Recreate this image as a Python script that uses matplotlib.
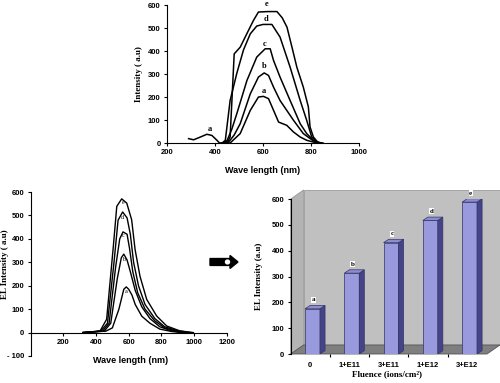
import matplotlib
matplotlib.use("Agg")
import matplotlib.pyplot as plt
from matplotlib.patches import Polygon, FancyArrow, Ellipse

# ---------------- data ----------------
# Top panel: emission spectra (a..e)
top_a_x = [290, 311, 339, 366, 387, 408, 419, 440, 463, 505, 547, 581, 602, 623, 644, 665, 699, 727, 755, 782, 824]
top_a_y = [19, 14, 26, 38, 33, 12, 0, 2, 0, 41, 142, 200, 203, 193, 142, 91, 77, 48, 26, 12, 0]
top_b_x = [445, 460, 480, 505, 547, 581, 605, 623, 644, 671, 699, 727, 768, 810, 845]
top_b_y = [0, 8, 35, 84, 214, 287, 305, 294, 243, 185, 142, 99, 41, 9, 0]
top_c_x = [435, 450, 470, 491, 533, 574, 609, 630, 644, 671, 713, 755, 782, 810, 838]
top_c_y = [0, 10, 60, 128, 272, 374, 410, 410, 359, 287, 185, 84, 41, 12, 0]
top_d_x = [430, 443, 463, 491, 519, 547, 574, 600, 637, 671, 713, 755, 782, 803, 831]
top_d_y = [0, 12, 185, 304, 406, 475, 509, 516, 516, 461, 330, 185, 99, 26, 0]
top_e_x = [430, 455, 463, 480, 505, 530, 560, 581, 620, 658, 680, 700, 720, 741, 768, 789, 796, 810, 831, 850]
top_e_y = [0, 10, 26, 388, 417, 470, 533, 570, 572, 572, 545, 504, 420, 330, 243, 157, 70, 26, 0, 0]

# Bottom-left panel: EL spectra (a..e)
bl_a_x = [320, 400, 460, 500, 540, 570, 585, 600, 620, 640, 680, 730, 790, 860, 920]
bl_a_y = [0, 4, 6, 20, 100, 185, 195, 185, 160, 120, 70, 40, 15, 5, 0]
bl_b_x = [320, 400, 450, 490, 530, 555, 570, 590, 610, 640, 680, 730, 790, 860, 940]
bl_b_y = [0, 4, 6, 40, 230, 320, 335, 310, 260, 180, 110, 60, 25, 8, 0]
bl_c_x = [320, 400, 440, 480, 520, 545, 565, 590, 605, 625, 655, 700, 760, 820, 900, 960]
bl_c_y = [0, 4, 6, 40, 280, 400, 430, 420, 360, 260, 170, 100, 50, 20, 5, 0]
bl_d_x = [320, 400, 430, 470, 510, 535, 563, 590, 610, 630, 660, 700, 760, 820, 900, 980]
bl_d_y = [0, 5, 7, 40, 300, 480, 515, 490, 420, 300, 200, 120, 60, 25, 8, 0]
bl_e_x = [320, 400, 425, 465, 506, 527, 557, 588, 618, 639, 669, 710, 771, 833, 914, 996]
bl_e_y = [0, 5, 7, 57, 369, 539, 571, 553, 482, 355, 241, 142, 71, 28, 7, 0]

# Bottom-right panel: EL intensity vs fluence
fluence_labels = ["0", "1+E11", "3+E11", "1+E12", "3+E12"]
el_values = [175, 313, 431, 517, 588]
bar_letters = ["a", "b", "c", "d", "e"]

# ---------------- figure ----------------
fig = plt.figure(figsize=(5.0, 3.83), dpi=100)
SANS = ["Liberation Sans", "DejaVu Sans"]
SERIF = ["Liberation Serif", "DejaVu Serif"]

def style_ticks(ax):
    for lab in ax.get_xticklabels() + ax.get_yticklabels():
        lab.set_fontfamily(SANS)
        lab.set_fontweight("bold")
        lab.set_fontsize(5.5)

# ---- top panel ----
ax1 = fig.add_axes([0.334, 0.6266, 0.384, 0.360])
for xs, ys in [(top_a_x, top_a_y), (top_b_x, top_b_y), (top_c_x, top_c_y),
               (top_d_x, top_d_y), (top_e_x, top_e_y)]:
    ax1.plot(xs, ys, color="black", lw=1.1)
ax1.set_xlim(200, 1000)
ax1.set_ylim(0, 600)
ax1.set_xticks([200, 400, 600, 800, 1000])
ax1.set_yticks(range(0, 601, 100))
ax1.spines[["top", "right"]].set_visible(False)
ax1.tick_params(length=2.5, width=0.8, pad=2)
style_ticks(ax1)
ax1.set_xlabel("Wave length (nm)", fontfamily=SANS, fontweight="bold", fontsize=6.5)
ax1.xaxis.set_label_coords(0.5, -0.165)
ax1.set_ylabel("Intensity ( a.u)", fontfamily=SERIF, fontweight="bold", fontsize=6.5)
ax1.yaxis.set_label_coords(-0.125, 0.5)
for letter, (lx, ly) in zip(["a", "b", "c", "d", "e", "a"],
                            [(605, 226), (605, 333), (605, 432), (612, 540), (616, 604), (380, 62)]):
    ax1.text(lx, ly, letter, ha="center", va="center", fontfamily=SERIF,
             fontweight="bold", fontsize=6, clip_on=False)

# ---- bottom-left panel ----
ax2 = fig.add_axes([0.0614, 0.0705, 0.392, 0.428])
for xs, ys in [(bl_a_x, bl_a_y), (bl_b_x, bl_b_y), (bl_c_x, bl_c_y),
               (bl_d_x, bl_d_y), (bl_e_x, bl_e_y)]:
    ax2.plot(xs, ys, color="black", lw=1.0)
ax2.set_xlim(0, 1200)
ax2.set_ylim(-100, 600)
ax2.set_xticks([200, 400, 600, 800, 1000, 1200])
ax2.set_yticks(range(-100, 601, 100))
ax2.set_yticklabels(["- 100"] + [str(v) for v in range(0, 601, 100)])
ax2.spines[["top", "right"]].set_visible(False)
ax2.spines["bottom"].set_position(("data", 0))
ax2.tick_params(length=2.5, width=0.8, pad=2)
style_ticks(ax2)
ax2.set_xlabel("Wave length (nm)", fontfamily=SANS, fontweight="bold", fontsize=6.5)
ax2.xaxis.set_label_coords(0.507, 0.0)
ax2.set_ylabel("EL Intensity ( a.u)", fontfamily=SERIF, fontweight="bold", fontsize=6.5)
ax2.yaxis.set_label_coords(-0.112, 0.56)
for letter, (lx, ly) in zip(["a", "b", "c", "d", "e"],
                            [(584, 177), (571, 312), (563, 414), (563, 493), (563, 556)]):
    ax2.text(lx, ly, letter, ha="center", va="center", fontfamily=SERIF,
             fontsize=4.5, clip_on=False)

# ---- arrow ----
fig.patches.append(FancyArrow(0.420, 0.316, 0.040, 0, width=0.018, head_width=0.034,
                              head_length=0.016, length_includes_head=False,
                              transform=fig.transFigure, color="black"))
fig.patches.append(Ellipse((0.455, 0.316), 0.008, 0.010, transform=fig.transFigure,
                           color="white"))

# ---- bottom-right panel (pseudo 3D bars) ----
ax3 = fig.add_axes([0.5814, 0.0757, 0.3926, 0.4047])
n = len(el_values)
ax3.set_xlim(0, n)
ax3.set_ylim(0, 600)
DX, DY = 0.33, 35       # wall depth (data units)
bdx, bdy = 0.13, 13     # bar depth
bw, shift = 0.38, 0.055
wall = "#c0c0c0"
ax3.add_patch(Polygon([(DX, DY), (DX, 600 + DY), (n + DX, 600 + DY), (n + DX, DY)],
                      closed=True, fc=wall, ec="#9a9a9a", lw=0.6, clip_on=False, zorder=0))
ax3.add_patch(Polygon([(0, 0), (0, 600), (DX, 600 + DY), (DX, DY)],
                      closed=True, fc="#b4b4b4", ec="#9a9a9a", lw=0.6, clip_on=False, zorder=0))
ax3.add_patch(Polygon([(0, 0), (n, 0), (n + DX, DY), (DX, DY)],
                      closed=True, fc="#7f7f7f", ec="#555555", lw=0.6, clip_on=False, zorder=0.5))
for i, v in enumerate(el_values):
    x0 = i + 0.5 + shift - bw / 2
    x1 = x0 + bw
    ax3.add_patch(Polygon([(x0, 0), (x1, 0), (x1, v), (x0, v)], closed=True,
                          fc="#9999dd", ec="#333366", lw=0.5, zorder=2))
    ax3.add_patch(Polygon([(x1, 0), (x1 + bdx, bdy), (x1 + bdx, v + bdy), (x1, v)], closed=True,
                          fc="#444488", ec="#333366", lw=0.5, zorder=2))
    ax3.add_patch(Polygon([(x0, v), (x1, v), (x1 + bdx, v + bdy), (x0 + bdx, v + bdy)], closed=True,
                          fc="#8c8cd0", ec="#333366", lw=0.5, zorder=2))
    ax3.text((x0 + x1) / 2 + 0.03, v + bdy + 22, bar_letters[i], ha="center", va="center",
             fontfamily=SERIF, fontweight="bold", fontsize=5, zorder=3,
             bbox=dict(boxstyle="square,pad=0.08", fc="white", ec="none"))
ax3.set_xticks([i + 0.5 for i in range(n)])
ax3.set_xticklabels(fluence_labels)
ax3.set_xticks(range(1, n), minor=True)
ax3.tick_params(axis="x", which="major", length=0, pad=6)
ax3.tick_params(axis="x", which="minor", length=2.5, width=0.8)
ax3.set_yticks(range(0, 601, 100))
ax3.tick_params(axis="y", length=2.5, width=0.8, pad=2)
ax3.spines[["top", "right"]].set_visible(False)
ax3.spines["bottom"].set_visible(False)
style_ticks(ax3)
ax3.set_xlabel("Fluence (ions/cm²)", fontfamily=SERIF, fontweight="bold", fontsize=6.5)
ax3.xaxis.set_label_coords(0.49, -0.105)
ax3.set_ylabel("EL Intensity (a.u)", fontfamily=SERIF, fontweight="bold", fontsize=6.5)
ax3.yaxis.set_label_coords(-0.141, 0.5)

fig.savefig("out.png", dpi=100)
